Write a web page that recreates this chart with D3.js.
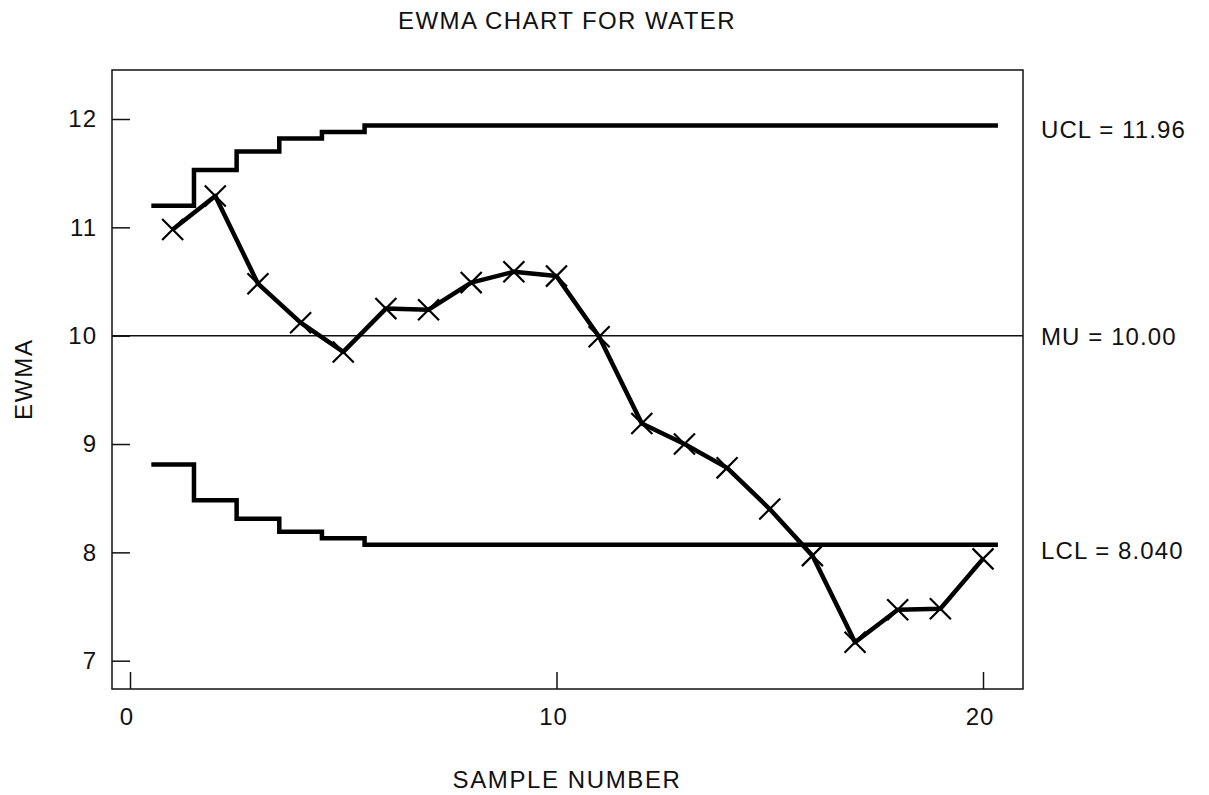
<!DOCTYPE html>
<html>
<head>
<meta charset="utf-8">
<script src="https://cdn.jsdelivr.net/npm/d3@7"></script>
<style>
  body { margin: 0; background: #fff; }
  text { font-family: "Liberation Sans", Arial, sans-serif; fill: #111; }
</style>
</head>
<body>
<div class="chart"></div>
<script>
var width = 1209, height = 795;
var margin = ({top: 70, right: 186, bottom: 106, left: 112});
var font = 24;

// data
var samples = d3.range(1, 21);
var ewma = [10.98, 11.29, 10.48, 10.12, 9.85, 10.25, 10.24, 10.49, 10.59, 10.55,
            9.99, 9.19, 9.00, 8.78, 8.40, 7.97, 7.17, 7.47, 7.48, 7.94];
var ucl = [11.20, 11.53, 11.70, 11.82, 11.88, 11.94, 11.94, 11.94, 11.94, 11.94,
           11.94, 11.94, 11.94, 11.94, 11.94, 11.94, 11.94, 11.94, 11.94, 11.94];
var lcl = [8.81, 8.48, 8.31, 8.19, 8.13, 8.07, 8.07, 8.07, 8.07, 8.07,
           8.07, 8.07, 8.07, 8.07, 8.07, 8.07, 8.07, 8.07, 8.07, 8.07];
var mu = 10.00;
var limitLabels = [{v: 11.96, t: "UCL = 11.96", dy: 6},
                   {v: 10.00, t: "MU = 10.00", dy: 1},
                   {v: 8.04, t: "LCL = 8.040", dy: 3}];
var xTicks = [0, 10, 20];
var yTicks = [7, 8, 9, 10, 11, 12];

var svg = d3.select(".chart")
  .append("svg")
    .attr("width", width)
    .attr("height", height);

var x = d3.scaleLinear().domain([0, 20]).range([130, 983]);
var y = d3.scaleLinear().domain([7, 12]).range([660.7, 119]);

var frameL = margin.left, frameR = width - margin.right;
var frameT = margin.top, frameB = height - margin.bottom;

// frame
svg.append("rect")
  .attr("x", frameL).attr("y", frameT)
  .attr("width", frameR - frameL).attr("height", frameB - frameT)
  .attr("fill", "none").attr("stroke", "#111").attr("stroke-width", 1.5);

// y ticks (inside the frame)
var ya = svg.append("g").attr("transform", `translate(${frameL},0)`)
  .call(d3.axisRight(y).tickValues(yTicks).tickSize(18).tickFormat(""));
ya.select(".domain").remove();
ya.selectAll("line").attr("stroke", "#111").attr("stroke-width", 1.5);
svg.selectAll(".ylab").data(yTicks).join("text")
  .attr("x", frameL - 15).attr("y", d => y(d)).attr("dy", "0.35em")
  .attr("text-anchor", "end").style("font-size", font + "px").style("letter-spacing", "1px")
  .text(d => d);

// x ticks (pointing up from bottom)
var xa = svg.append("g").attr("transform", `translate(0,${frameB})`)
  .call(d3.axisTop(x).tickValues(xTicks).tickSize(17).tickFormat(""));
xa.select(".domain").remove();
xa.selectAll("line").attr("stroke", "#111").attr("stroke-width", 1.5);
svg.selectAll(".xlab").data(xTicks).join("text")
  .attr("x", d => x(d) - 3).attr("y", frameB + 36)
  .attr("text-anchor", "middle").style("font-size", font + "px").style("letter-spacing", "1px")
  .text(d => d);

// center line
svg.append("line")
  .attr("x1", frameL).attr("x2", frameR)
  .attr("y1", y(mu)).attr("y2", y(mu))
  .attr("stroke", "#111").attr("stroke-width", 1.5);

// step limits
function steps(vals) {
  var pts = [];
  vals.forEach((v, i) => {
    var s = samples[i];
    pts.push([s - 0.5, v]);
    pts.push([i === vals.length - 1 ? s + 0.35 : s + 0.5, v]);
  });
  return pts;
}
var line = d3.line().x(d => x(d[0])).y(d => y(d[1]));
[ucl, lcl].forEach(function(vals) {
  svg.append("path")
    .attr("d", line(steps(vals)))
    .attr("fill", "none").attr("stroke", "#000")
    .attr("stroke-width", 4.5).attr("stroke-linejoin", "miter").attr("stroke-linecap", "butt");
});

// ewma line
var ewmaLine = d3.line().x((d, i) => x(samples[i])).y(d => y(d));
svg.append("path")
  .attr("d", ewmaLine(ewma))
  .attr("fill", "none").attr("stroke", "#000")
  .attr("stroke-width", 4.5).attr("stroke-linejoin", "round");

// X markers
var cross = d3.symbol().type(d3.symbolX).size(290);
svg.selectAll(".pt").data(ewma).join("path")
  .attr("transform", (d, i) => `translate(${x(samples[i])},${y(d)})`)
  .attr("d", cross)
  .attr("fill", "none").attr("stroke", "#000").attr("stroke-width", 2.2);

// limit labels
svg.selectAll(".lim").data(limitLabels).join("text")
  .attr("x", 1041).attr("y", d => y(d.v) + d.dy).attr("dy", "0.35em")
  .style("font-size", font + "px").style("letter-spacing", "1.1px")
  .text(d => d.t);

// titles
svg.append("text")
  .attr("x", 567).attr("y", 29).attr("text-anchor", "middle")
  .style("font-size", font + "px").style("letter-spacing", "1.4px")
  .text("EWMA CHART FOR WATER");
svg.append("text")
  .attr("x", 567).attr("y", 788).attr("text-anchor", "middle")
  .style("font-size", font + "px").style("letter-spacing", "1.6px")
  .text("SAMPLE NUMBER");
svg.append("text")
  .attr("transform", "translate(32,379) rotate(-90)").attr("text-anchor", "middle")
  .style("font-size", font + "px").style("letter-spacing", "1.8px")
  .text("EWMA");
</script>
</body>
</html>
